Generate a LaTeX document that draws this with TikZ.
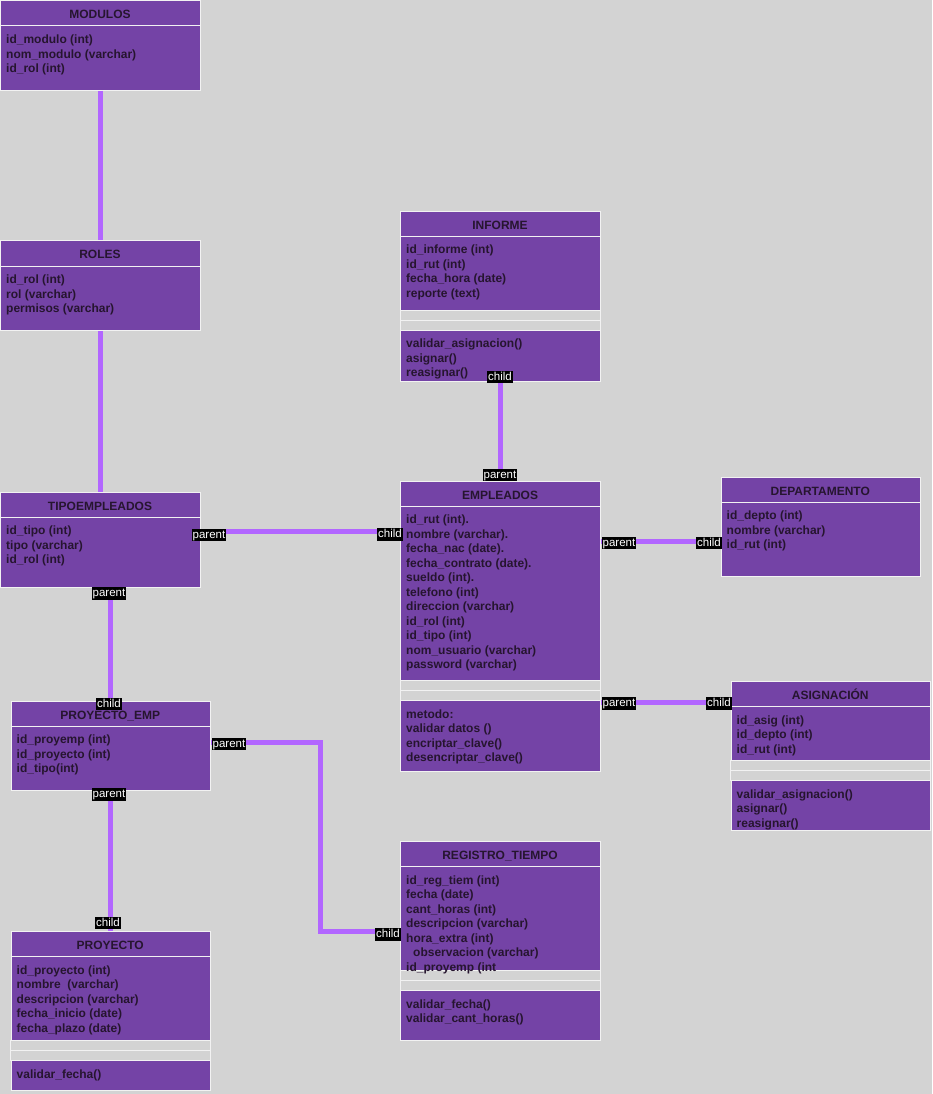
\documentclass[tikz,border=0pt]{standalone}
\usepackage{fontspec}
\setmainfont{Liberation Sans}

\definecolor{canvas}{HTML}{D3D3D3}
\definecolor{classfill}{HTML}{7443A6}
\definecolor{classtext}{HTML}{26152F}
\definecolor{edge}{HTML}{B266FF}
\definecolor{rim}{HTML}{F2F2F2}

\tikzset{
  classbody/.style={draw=rim, line width=1pt, fill=classfill, inner sep=0pt, anchor=north west},
  band/.style={draw=rim, line width=1pt, fill=canvas},
  rule/.style={draw=rim, line width=1pt},
  classtitle/.style={font=\fontsize{12}{14}\selectfont\bfseries, text=classtext, anchor=base, inner sep=0pt},
  member/.style={font=\fontsize{12}{14}\selectfont\bfseries, text=classtext, anchor=base west, inner sep=0pt},
  link/.style={draw=edge, line width=5pt, line join=miter},
  role/.style={fill=black, text=white, font=\fontsize{11.5}{12}\selectfont,
    inner xsep=1pt, inner ysep=0.5pt, text height=8.8pt, text depth=2.6pt},
}

% class frame: name, x, y, width, height, title
\newcommand\classframe[6]{%
  \node[classbody, minimum width=#4pt, minimum height=#5pt] (#1) at (#2,#3) {};
  \draw[rule] (#2,#3+26) -- ++(#4,0);
  \node[classtitle] (#1-title) at (#2+#4/2,#3+18.5) {#6};
}
% list of members: prefix, x, section top, items
\newcommand\memberlist[4]{%
  \foreach \m [count=\i] in {#4}
    \node[member] (#1-\i) at (#2+6, #3+17.8+14.5*\i-14.5) {\m};
}
% two empty compartments: x, y, width
\newcommand\emptyrows[3]{%
  \draw[band] (#1,#2) rectangle ++(#3,10);
  \draw[band] (#1,#2+10) rectangle ++(#3,10);
}

\begin{document}
\begin{tikzpicture}[x=1pt, y=-1pt]
  \useasboundingbox (0,0) rectangle (932,1094);
  \fill[canvas] (0,0) rectangle (932,1094);

  % MODULOS
  \classframe{modulos}{0}{0}{200}{90}{MODULOS}
  \memberlist{modulos-a}{0}{26}{id\_modulo (int), nom\_modulo (varchar), id\_rol (int)}

  % ROLES
  \classframe{roles}{0}{240}{200}{90}{ROLES}
  \memberlist{roles-a}{0}{266}{id\_rol (int), rol (varchar), permisos (varchar)}

  % INFORME
  \classframe{informe}{400}{210.5}{200}{170}{INFORME}
  \emptyrows{400}{310}{200}
  \memberlist{informe-a}{400}{236}{id\_informe (int), id\_rut (int), fecha\_hora (date), reporte (text)}
  \memberlist{informe-m}{400}{330}{validar\_asignacion(), asignar(), reasignar()}

  % EMPLEADOS
  \classframe{empleados}{400}{480.5}{200}{290}{EMPLEADOS}
  \emptyrows{400}{680}{200}
  \memberlist{empleados-a}{400}{506}{id\_rut (int)., nombre (varchar)., fecha\_nac (date).,
    fecha\_contrato (date)., sueldo (int)., telefono (int), direccion (varchar), id\_rol (int),
    id\_tipo (int), nom\_usuario (varchar), password (varchar)}
  \memberlist{empleados-m}{400}{700.5}{metodo:, validar datos (), encriptar\_clave(), desencriptar\_clave()}

  % DEPARTAMENTO
  \classframe{depto}{720.5}{476.5}{199.5}{99.5}{DEPARTAMENTO}
  \memberlist{depto-a}{720.5}{502}{id\_depto (int), nombre (varchar), id\_rut (int)}

  % ASIGNACION
  \classframe{asig}{730.5}{680.5}{199.5}{149.5}{ASIGNACIÓN}
  \emptyrows{730.5}{760}{199.5}
  \memberlist{asig-a}{730.5}{706.5}{id\_asig (int), id\_depto (int), id\_rut (int)}
  \memberlist{asig-m}{730.5}{780.5}{validar\_asignacion(), asignar(), reasignar()}

  % TIPOEMPLEADOS
  \classframe{tipo}{0}{491.5}{200}{95}{TIPOEMPLEADOS}
  \memberlist{tipo-a}{0}{517}{id\_tipo (int), tipo (varchar), id\_rol (int)}

  % PROYECTO_EMP
  \classframe{proyemp}{10.5}{700.5}{199.5}{89.5}{PROYECTO\_EMP}
  \memberlist{proyemp-a}{10.5}{726}{id\_proyemp (int), id\_proyecto (int), id\_tipo(int)}

  % REGISTRO_TIEMPO
  \classframe{registro}{400}{840.5}{200}{199.5}{REGISTRO\_TIEMPO}
  \emptyrows{400}{970}{200}
  \memberlist{registro-a}{400}{866.5}{id\_reg\_tiem (int), fecha (date), cant\_horas (int),
    descripcion (varchar), hora\_extra (int), \hspace*{7pt}observacion (varchar), id\_proyemp (int}
  \memberlist{registro-m}{400}{990.5}{validar\_fecha(), validar\_cant\_horas()}

  % PROYECTO
  \classframe{proyecto}{10.5}{930.5}{199.5}{159.5}{PROYECTO}
  \emptyrows{10.5}{1040}{199.5}
  \memberlist{proyecto-a}{10.5}{956.5}{id\_proyecto (int), nombre\ \ (varchar), descripcion (varchar),
    fecha\_inicio (date), fecha\_plazo (date)}
  \memberlist{proyecto-m}{10.5}{1060.5}{validar\_fecha()}

  % relationships
  \draw[link] (modulos.south) -- (roles.north);
  \draw[link] (roles.south) -- (tipo.north);
  \draw[link] (informe.south) -- (empleados.north);
  \draw[link] (tipo.east |- 0,531.5) -- (empleados.west |- 0,531.5);
  \draw[link] (empleados.east |- 0,541) -- (depto.west |- 0,541);
  \draw[link] (empleados.east |- 0,702) -- (asig.west |- 0,702);
  \draw[link] (proyemp.north |- tipo.south) -- (proyemp.north);
  \draw[link] (proyemp.south) -- (proyecto.north);
  \coordinate (elbow) at (320.5,742.5);
  \draw[link] (proyemp.east |- elbow) -| (elbow |- 0,931) -- (registro.west |- 0,931);

  % multiplicity tags
  \node[role] (tag-informe) at (500,377) {child};
  \node[role] (tag-emp-top) at (500,475) {parent};
  \node[role] (tag-tipo-r) at (209,535) {parent};
  \node[role] (tag-emp-l) at (390,534.5) {child};
  \node[role] (tag-emp-r1) at (619,543) {parent};
  \node[role] (tag-depto) at (709,543) {child};
  \node[role] (tag-emp-r2) at (619,703.5) {parent};
  \node[role] (tag-asig) at (719,703.5) {child};
  \node[role] (tag-tipo-b) at (109,593.5) {parent};
  \node[role] (tag-proyemp-t) at (109,704) {child};
  \node[role] (tag-proyemp-r) at (229,744) {parent};
  \node[role] (tag-proyemp-b) at (109,794.5) {parent};
  \node[role] (tag-proyecto) at (108,923) {child};
  \node[role] (tag-registro) at (388,934.5) {child};
\end{tikzpicture}
\end{document}
